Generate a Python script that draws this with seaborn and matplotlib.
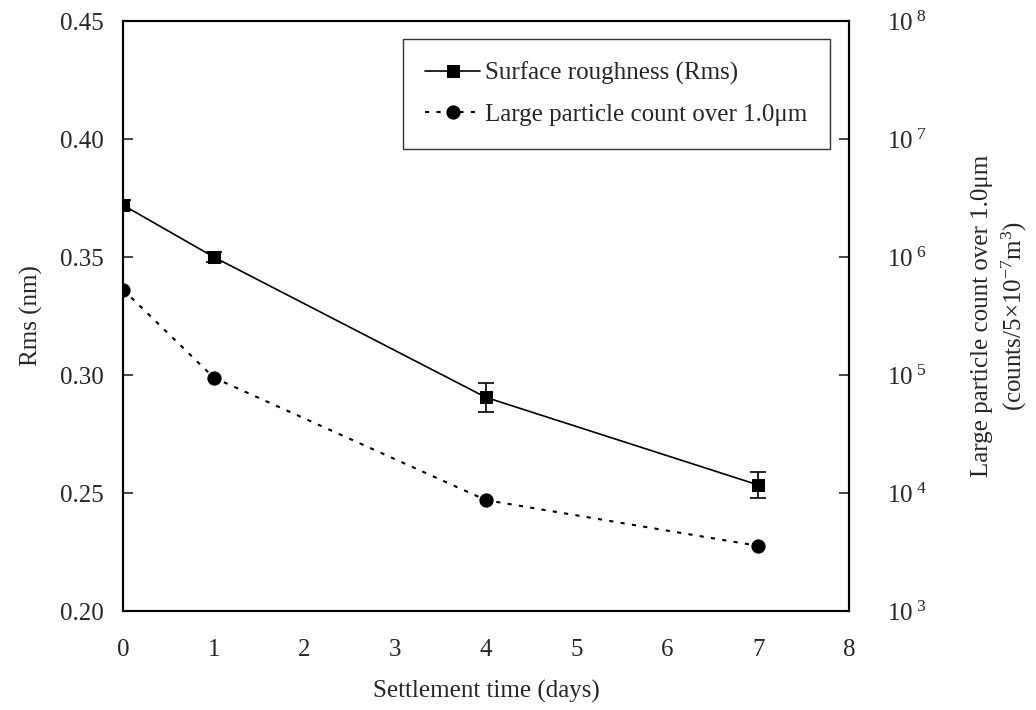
import matplotlib
matplotlib.use("Agg")
import math
import matplotlib.pyplot as plt
import matplotlib.ticker as mticker
import seaborn as sns
import pandas as pd

# ---- data ----
days = [0, 1, 4, 7]
rms = [0.372, 0.350, 0.2905, 0.2534]
rms_err = [0.002, 0.002, 0.0062, 0.0056]
particles = [5.3e5, 9.5e4, 8.7e3, 3.56e3]
label_rms = "Surface roughness (Rms)"
label_part = "Large particle count over 1.0\u03bcm"
xlabel = "Settlement time (days)"
ylabel_left = "Rms (nm)"
ylabel_right = "Large particle count over 1.0\u03bcm\n(counts/5\u00d710$^{-7}$m$^{3}$)"

sns.set_theme(style="ticks")
plt.rcParams["font.family"] = ["Liberation Serif", "DejaVu Serif"]
plt.rcParams["mathtext.fontset"] = "custom"
plt.rcParams["mathtext.rm"] = "Liberation Serif"
plt.rcParams["mathtext.it"] = "Liberation Serif:italic"
plt.rcParams["axes.linewidth"] = 1.5

fig = plt.figure(figsize=(10.36, 7.1), dpi=100)
ax = fig.add_axes([123 / 1036, 1 - 611 / 710, (849 - 123) / 1036, (611 - 21) / 710])
ax2 = ax.twinx()

df_rms = pd.DataFrame({"day": days, "rms": rms})
df_p = pd.DataFrame({"day": days, "count": particles})

sns.lineplot(data=df_rms, x="day", y="rms", ax=ax, color="black", lw=1.2,
             marker="s", markersize=9, markeredgecolor="black", label=label_rms, legend=False)
ax.errorbar(days, rms, yerr=rms_err, fmt="none", ecolor="black", elinewidth=1.2,
            capsize=6, capthick=1.2)
sns.lineplot(data=df_p, x="day", y="count", ax=ax2, color="black", lw=1.5,
             linestyle=(0, (2, 3.5)), marker="o", markersize=9.5,
             markeredgecolor="black", label=label_part, legend=False)

ax.set_xlim(0, 8)
ax.set_ylim(0.20, 0.45)
ax.set_xticks(range(0, 9))
ax.set_yticks([0.20, 0.25, 0.30, 0.35, 0.40, 0.45])
ax.yaxis.set_major_formatter(mticker.FormatStrFormatter("%.2f"))
ax.tick_params(axis="x", length=0, pad=20, labelsize=18)
ax.tick_params(axis="y", direction="in", length=7, width=1.2, pad=14, labelsize=18, left=True)
ax.set_xlabel(xlabel, fontsize=18, labelpad=14)
ax.set_ylabel(ylabel_left, fontsize=18, labelpad=12)

ax2.set_yscale("log")
ax2.set_ylim(1e3, 1e8)
ax2.yaxis.set_major_locator(mticker.FixedLocator([1e3, 1e4, 1e5, 1e6, 1e7, 1e8]))
ax2.yaxis.set_minor_locator(mticker.NullLocator())
ax2.yaxis.set_major_formatter(mticker.FuncFormatter(
    lambda v, p: r"$\mathregular{10^{\ %d}}$" % round(math.log10(v))))
ax2.tick_params(axis="y", direction="in", length=7, width=1.2, pad=27, labelsize=18, right=True)
ax2.set_ylabel(ylabel_right, fontsize=18, labelpad=32, linespacing=1.3)
ax2.set_xlim(0, 8)

for a in (ax, ax2):
    for s in a.spines.values():
        s.set_linewidth(1.5)
        s.set_color("black")
    a.grid(False)

h1, l1 = ax.get_legend_handles_labels()
h2, l2 = ax2.get_legend_handles_labels()
leg = ax2.legend(h1 + h2, l1 + l2, loc="upper right",
                 bbox_to_anchor=(830 / 1036, 1 - 39 / 710), bbox_transform=fig.transFigure,
                 borderaxespad=0, fontsize=18, frameon=True, fancybox=False,
                 edgecolor="black", handlelength=2.2, handletextpad=0.2,
                 labelspacing=0.75, borderpad=0.9)
leg.get_frame().set_linewidth(1.0)

fig.savefig("out.png", dpi=100)
